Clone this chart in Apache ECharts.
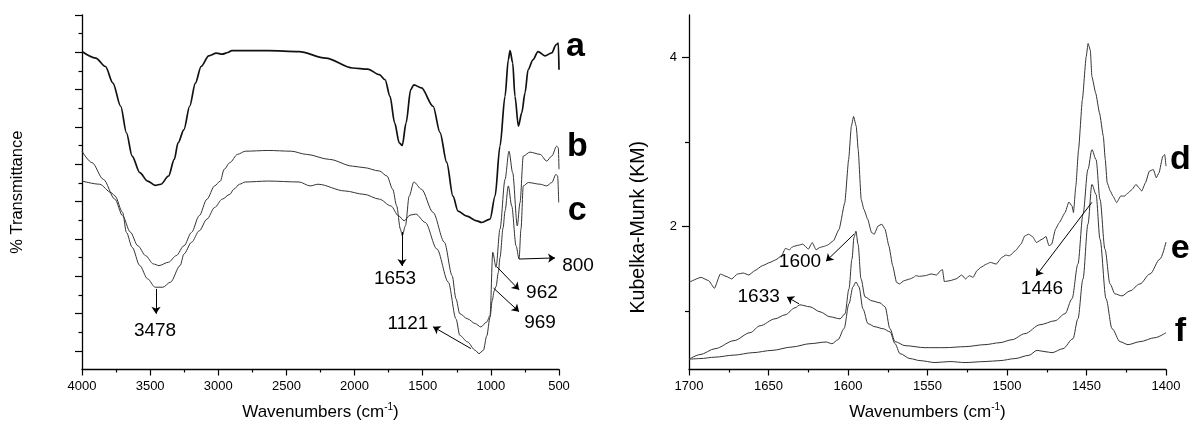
<!DOCTYPE html>
<html><head><meta charset="utf-8">
<script src="https://cdn.jsdelivr.net/npm/echarts@6/dist/echarts.min.js"></script>
<style>html,body{margin:0;padding:0;background:#fff}#c{width:1190px;height:426px}</style>
</head><body><div id="c"></div>
<script>
// ---------- data (left panel: FTIR, % transmittance, arbitrary offset units) ----------
const curveA = [[4000,17.04],[3899,16.69],[3828,16.24],[3773,15.35],[3716,14.11],[3674,12.69],[3632,11.44],[3576,10.55],[3519,10.10],[3463,9.87],[3421,9.93],[3365,10.37],[3323,11.26],[3295,12.15],[3252,12.86],[3210,14.11],[3168,15.35],[3126,16.24],[3070,16.81],[3014,16.96],[2971,16.90],[2929,16.99],[2901,17.09],[2634,17.09],[2408,17.04],[2212,16.69],[2015,16.16],[1903,16.10],[1818,15.80],[1776,15.53],[1740,14.64],[1706,13.22],[1672,12.15],[1650,12.01],[1622,13.22],[1588,15.00],[1565,15.26],[1509,15.09],[1424,14.11],[1373,12.70],[1324,11.10],[1278,9.29],[1241,8.49],[1177,8.22],[1104,7.97],[1067,7.88],[1006,8.06],[969,9.30],[933,11.97],[896,14.64],[872,16.60],[859,17.09],[840,16.44],[823,14.64],[798,13.04],[773,13.77],[749,14.84],[727,16.06],[691,16.6],[654,17.04],[603,16.81],[553,16.97],[522,17.40],[505,17.49],[500,16.06]];
const curveB = [[4000,11.70],[3927,11.09],[3843,10.19],[3759,9.13],[3702,8.24],[3646,7.37],[3590,6.63],[3533,6.10],[3477,5.66],[3435,5.57],[3365,5.75],[3309,6.10],[3252,6.63],[3196,7.35],[3140,8.24],[3083,9.13],[3027,9.84],[2985,10.10],[2957,10.73],[2915,11.09],[2859,11.53],[2802,11.70],[2634,11.74],[2465,11.70],[2353,11.53],[2184,11.26],[2015,10.90],[1931,10.82],[1818,10.64],[1762,10.37],[1720,9.66],[1691,8.77],[1664,7.53],[1650,7.17],[1627,7.70],[1599,9.30],[1565,10.05],[1509,9.66],[1424,8.42],[1341,6.82],[1284,5.03],[1256,3.79],[1228,2.99],[1172,2.72],[1115,2.46],[1074,2.28],[1030,2.55],[1006,2.90],[986,6.28],[962,5.48],[933,7.53],[896,10.19],[867,11.70],[840,10.55],[806,7.70],[786,8.95],[762,11.44],[713,11.65],[639,11.53],[590,11.17],[553,11.44],[517,11.97],[505,11.89],[500,10.73]];
const curveC = [[4000,10.10],[3871,9.93],[3786,9.48],[3758,9.30],[3702,8.42],[3674,7.35],[3632,6.55],[3576,5.57],[3519,4.86],[3463,4.41],[3407,4.41],[3351,4.68],[3280,5.57],[3252,6.19],[3196,6.82],[3140,7.43],[3083,8.06],[3027,8.68],[2971,9.13],[2915,9.39],[2887,9.66],[2844,9.93],[2802,10.05],[2634,10.10],[2408,10.05],[2325,9.84],[2268,9.93],[2072,9.57],[1931,9.39],[1818,9.13],[1734,8.77],[1678,8.24],[1636,7.97],[1594,8.27],[1551,8.33],[1481,7.88],[1396,6.46],[1312,4.68],[1256,2.72],[1228,1.83],[1172,1.48],[1115,1.03],[1087,0.85],[1055,1.03],[1030,1.80],[1006,2.80],[990,3.70],[975,4.22],[962,4.45],[945,5.20],[933,6.00],[910,7.60],[896,8.50],[872,9.84],[847,8.77],[815,6.63],[793,5.92],[779,7.53],[762,9.84],[725,10.02],[639,9.93],[590,9.84],[553,10.02],[522,10.46],[510,10.37],[502,8.95]];

// ---------- data (right panel: DRIFT, Kubelka-Munk) ----------
const curveD = [[1700,1.341],[1692.4,1.399],[1687.6,1.360],[1684.0,1.270],[1680.3,1.439],[1676.7,1.411],[1673.1,1.380],[1669.5,1.439],[1665.9,1.450],[1662.3,1.427],[1658.7,1.478],[1653.8,1.537],[1649.0,1.576],[1645.4,1.607],[1641.8,1.654],[1639.4,1.741],[1636.9,1.725],[1634.5,1.764],[1630.9,1.780],[1628.5,1.792],[1624.9,1.733],[1622.5,1.811],[1620.1,1.725],[1617.7,1.752],[1615.3,1.764],[1612.9,1.780],[1609.2,1.831],[1605.6,1.968],[1602.0,2.282],[1599.6,2.792],[1597.9,3.184],[1596.5,3.301],[1594.8,3.184],[1593.6,2.909],[1591.7,2.321],[1590.0,2.203],[1587.6,2.086],[1585.2,1.929],[1583.5,1.909],[1581.1,2.007],[1578.7,2.027],[1576.7,1.968],[1574.3,1.772],[1571.9,1.537],[1569.5,1.341],[1567.6,1.321],[1564.7,1.360],[1561.1,1.380],[1558.7,1.399],[1557.4,1.419],[1555.0,1.411],[1551.4,1.419],[1547.8,1.439],[1544.2,1.427],[1541.8,1.478],[1540.6,1.490],[1539.4,1.349],[1535.8,1.360],[1532.1,1.380],[1528.5,1.427],[1526.1,1.380],[1523.7,1.419],[1521.3,1.399],[1518.9,1.478],[1516.5,1.517],[1512.9,1.556],[1510.5,1.576],[1506.8,1.556],[1503.2,1.635],[1500.8,1.662],[1498.4,1.654],[1494.8,1.713],[1491.2,1.792],[1488.8,1.890],[1486.4,1.909],[1484.0,1.882],[1481.5,1.811],[1477.9,1.850],[1475.5,1.882],[1473.6,1.772],[1471.9,1.792],[1469.5,1.968],[1467.1,2.047],[1463.5,2.164],[1461.1,2.290],[1459.1,2.243],[1458.2,2.164],[1456.7,2.478],[1455.0,2.909],[1452.6,3.498],[1450.2,4.007],[1449.0,4.164],[1447.6,4.086],[1446.6,3.772],[1444.2,3.576],[1441.8,3.341],[1439.4,3.066],[1438.2,2.792],[1437.0,2.517],[1435.0,2.419],[1433.4,2.360],[1431.0,2.282],[1428.5,2.360],[1426.1,2.360],[1423.7,2.399],[1421.3,2.439],[1418.9,2.498],[1417.0,2.458],[1415.3,2.419],[1412.9,2.517],[1410.5,2.654],[1408.0,2.674],[1406.1,2.576],[1404.4,2.635],[1402.0,2.831],[1400.8,2.850],[1400,2.713]];
const curveE = [[1700,0.431],[1693.1,0.486],[1683.6,0.556],[1671.7,0.651],[1661.6,0.745],[1655.3,0.827],[1645.9,0.909],[1639.6,0.956],[1633.3,1.039],[1630.2,1.074],[1623.9,1.051],[1617.6,0.992],[1611.3,0.933],[1605.0,0.909],[1601.9,0.968],[1599.4,1.262],[1597.5,1.615],[1596.2,1.874],[1595.0,1.945],[1593.7,1.792],[1591.8,1.380],[1589.3,1.168],[1584.9,1.121],[1579.9,1.098],[1576.7,1.051],[1573.6,0.792],[1570.4,0.639],[1564.1,0.592],[1551.6,0.568],[1539.0,0.568],[1526.4,0.580],[1513.8,0.604],[1504.4,0.627],[1496.9,0.662],[1488.7,0.734],[1479.3,0.839],[1469.8,0.886],[1463.5,0.969],[1459.1,1.146],[1455.4,1.556],[1452.2,2.145],[1449.1,2.674],[1446.6,2.909],[1444.0,2.792],[1441.5,2.321],[1438.4,1.733],[1435.2,1.321],[1432.1,1.204],[1427.7,1.180],[1422.7,1.239],[1416.4,1.321],[1410.1,1.439],[1403.8,1.615],[1400,1.816]];
const curveF = [[1700,0.431],[1693.1,0.439],[1683.6,0.456],[1671.7,0.480],[1659.8,0.509],[1647.8,0.536],[1635.2,0.576],[1623.9,0.615],[1613.8,0.635],[1610.1,0.615],[1606.3,0.662],[1602.5,0.792],[1599.4,1.086],[1596.9,1.286],[1595.0,1.345],[1593.1,1.286],[1590.6,1.027],[1587.4,0.851],[1583.0,0.815],[1578.0,0.792],[1573.6,0.756],[1570.4,0.615],[1567.3,0.498],[1561.0,0.439],[1554.7,0.415],[1545.3,0.392],[1535.9,0.404],[1526.4,0.392],[1513.8,0.404],[1504.4,0.415],[1495.0,0.439],[1486.2,0.478],[1481.1,0.536],[1476.1,0.521],[1471.7,0.509],[1464.8,0.556],[1458.5,0.674],[1455.4,0.909],[1452.2,1.380],[1449.1,2.027],[1446.6,2.498],[1444.0,2.380],[1441.5,1.850],[1437.7,1.146],[1433.9,0.792],[1428.9,0.639],[1423.9,0.604],[1416.4,0.639],[1407.0,0.686],[1400,0.745]];

// ---------- tick values ----------
const leftMajorTicks = [1,3,5,7,9,11,13,15,17,19];
const leftMinorTicks = [2,4,6,8,10,12,14,16,18];
const rightMajorTicks = [2,4];
const rightMinorTicks = [1,3];

// ---------- annotations (data coordinates) ----------
const leftArrows = [[3457,4.32,3457,2.99],[1652,7.37,1652,5.55],[793,5.92,529,5.98],[955,5.50,793,4.27],[980,4.36,793,3.10],[1146,1.12,1424,2.29]];
const leftNotes = [['3478',3464,2.08],['1653',1703,4.86],['800',360,5.55],['962',625,4.11],['969',639,2.51],['1121',1608,2.46]];
const rightArrows = [[1596.2,1.91,1613.8,1.59],[1630.8,1.086,1638.4,1.168],[1446.6,2.286,1481.8,1.415]];
const rightNotes = [['1600',1630.2,1.58],['1633',1656.2,1.166],['1446',1478,1.262]];
const leftLetters = [['a',380,17.29],['b',366,11.95],['c',366,8.49]];
const rightLetters = [['d',1391,2.79],['e',1391,1.733],['f',1391,0.757]];

const FONT = 'Liberation Sans, Arial, sans-serif';
const chart = echarts.init(document.getElementById('c'), null, {renderer:'canvas'});

function xAx(grid, min, max, interval){
  return {type:'value', gridIndex:grid, min:min, max:max, interval:interval, inverse:true,
    axisLine:{show:true, onZero:false, lineStyle:{color:'#000', width:1.3}},
    axisTick:{show:true, length:6, lineStyle:{color:'#000', width:1.2}},
    minorTick:{show:true, splitNumber:2, length:3, lineStyle:{color:'#000', width:1.2}},
    splitLine:{show:false}, minorSplitLine:{show:false},
    axisLabel:{color:'#000', fontSize:13, margin:10, fontFamily:FONT, formatter:v=>String(v)},
    name:'{n|Wavenumbers (cm}{s|-1}{n|)}', nameLocation:'middle', nameGap:33,
    nameTextStyle:{rich:{n:{fontSize:17, color:'#000', fontFamily:FONT, lineHeight:20}, s:{fontSize:10, color:'#000', fontFamily:FONT, verticalAlign:'top', lineHeight:20}}}
  };
}
function yAx(grid, min, max, major, labels, len, name, gap, nsize, showLine, pad){
  return {type:'value', gridIndex:grid, min:min, max:max, position:'left', offset:0,
    axisLine:{show:showLine, onZero:false, lineStyle:{color:'#000', width:1.3}},
    axisTick:{show:true, length:len, customValues:major, lineStyle:{color:'#000', width:1.2}},
    axisLabel:labels ? {show:true, customValues:labels, color:'#000', fontSize:13, margin:12, fontFamily:FONT} : {show:false},
    splitLine:{show:false},
    name:name, nameLocation:'middle', nameGap:gap,
    nameTextStyle:{fontSize:nsize, color:'#000', fontFamily:FONT, padding:pad||0}
  };
}
function lineS(data, xi, yi, w, color, smooth, extra){
  return Object.assign({type:'line', data:data, xAxisIndex:xi, yAxisIndex:yi, showSymbol:false, symbol:'none',
    smooth:smooth, smoothMonotone:'x',
    lineStyle:{color:color, width:w}, silent:true, animation:false, clip:true}, extra||{});
}
function arrows(list){
  return {silent:true, symbol:['none','arrow'], symbolSize:7, animation:false,
    itemStyle:{color:'#000'},
    label:{show:false}, lineStyle:{color:'#000', width:1, type:'solid'},
    data:list.map(a=>[{coord:[a[0],a[1]]},{coord:[a[2],a[3]]}])};
}

chart.setOption({
  animation:false,
  textStyle:{fontFamily:FONT},
  grid:[{left:82, top:15, width:477, height:356},{left:689, top:15, width:477, height:356}],
  xAxis:[xAx(0,500,4000,500), xAx(1,1400,1700,50)],
  yAxis:[
    yAx(0,0,19,leftMajorTicks,null,7,'% Transmittance',56,16.5,true),
    yAx(1,0.31,4.5,rightMajorTicks,rightMajorTicks,7,'Kubelka-Munk (KM)',40,19.5,true,[0,70,0,0]),
    yAx(0,0,19,leftMinorTicks,null,3.5,'',0,12,false),
    yAx(1,0.31,4.5,rightMinorTicks,null,4,'',0,12,false)
  ],
  series:[
    lineS(curveA,0,0,1.7,'#111',0.3),
    lineS(curveB,0,0,1,'#333',0.3),
    lineS(curveC,0,0,1,'#333',0.3,{markLine:arrows(leftArrows)}),
    lineS(curveD,1,1,1,'#333',0.15),
    lineS(curveE,1,1,1,'#333',0.3),
    lineS(curveF,1,1,1,'#333',0.3,{markLine:arrows(rightArrows)})
  ]
});

function texts(list, gi, size, weight){
  return list.map(t=>{
    const p = chart.convertToPixel({xAxisIndex:gi, yAxisIndex:gi}, [t[1], t[2]]);
    return {type:'text', x:p[0], y:p[1], silent:true,
      style:{text:t[0], fill:'#000', font: weight + ' ' + size + 'px ' + FONT, textAlign:'center', textVerticalAlign:'middle'}};
  });
}
chart.setOption({graphic:[].concat(
  texts(leftNotes,0,19,'normal'), texts(rightNotes,1,19,'normal'),
  texts(leftLetters,0,34,'bold'), texts(rightLetters,1,34,'bold')
)});
</script></body></html>
